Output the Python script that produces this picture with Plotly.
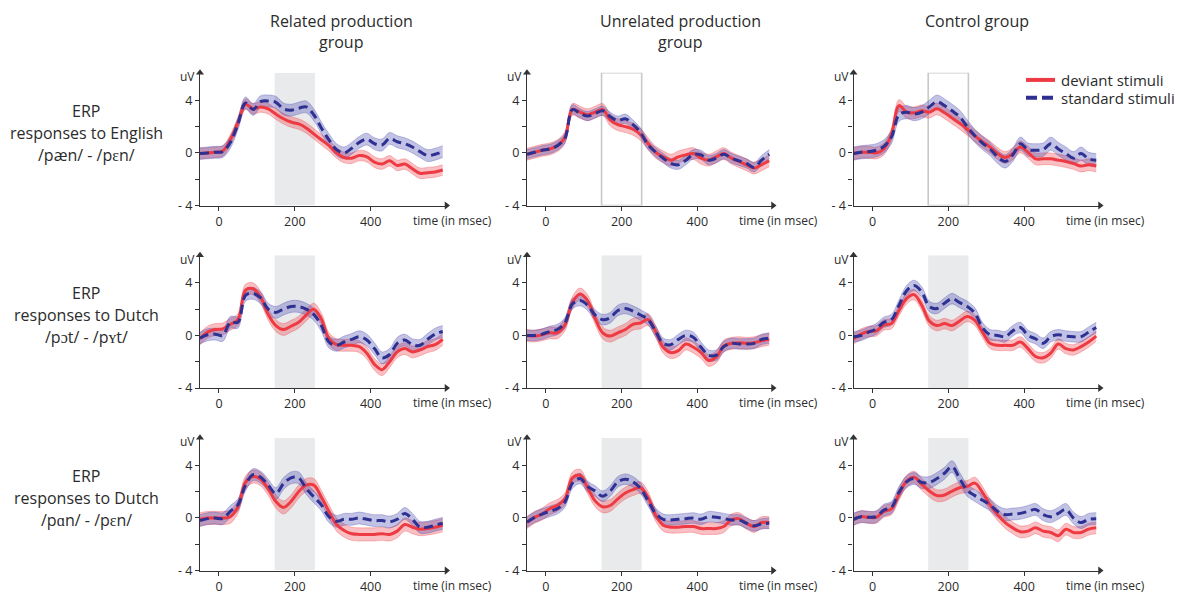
import plotly.graph_objects as go

# ---------------- data ----------------
TIME_MS = [-50, -30, -10, 10, 30, 50, 70, 90, 110, 130, 150, 170, 190, 210, 230, 250,
           270, 290, 310, 330, 350, 370, 390, 410, 430, 450, 470, 490, 510, 530, 550, 570, 590]

COL_TITLES = [["Related production", "group"], ["Unrelated production", "group"], ["Control group"]]
ROW_LABELS = [["ERP", "responses to English", "/pæn/ - /pɛn/"],
              ["ERP", "responses to Dutch", "/pɔt/ - /pʏt/"],
              ["ERP", "responses to Dutch", "/pɑn/ - /pɛn/"]]
SERIES_NAMES = ["deviant stimuli", "standard stimuli"]
Y_TICK_VALS = [-4, -2, 0, 2, 4]
Y_TICK_TEXT = ["- 4", "", "0", "", "4"]
X_TICK_VALS = [0, 200, 400]
X_TICK_TEXT = ["0", "200", "400"]
X_LABEL = "time (in msec)"
Y_LABEL = "uV"
WINDOW_MS = [147, 253]
WINDOW_OUTLINED = [[False, True, True], [False, False, False], [False, False, False]]

# row 1: English /pæn/-/pɛn/
dev_r1_related = [-0.05, 0.0, 0.05, 0.15, 1.0, 2.3, 3.7, 3.35, 3.5, 3.35, 2.95, 2.6, 2.35, 2.2, 1.9, 1.45,
                  1.0, 0.55, 0.0, -0.35, -0.4, -0.2, -0.3, -0.7, -0.85, -0.6, -0.95, -0.85, -1.2, -1.55, -1.5, -1.45, -1.3]
std_r1_related = [-0.05, 0.0, 0.05, 0.1, 0.8, 2.2, 3.8, 3.3, 3.9, 3.95, 3.85, 3.35, 3.25, 3.4, 3.5, 2.9,
                  1.9, 1.0, 0.25, 0.0, 0.35, 0.8, 1.05, 0.7, 0.6, 1.1, 0.85, 0.7, 0.45, 0.1, -0.2, -0.1, 0.1]
dev_r1_unrelated = [-0.1, 0.05, 0.2, 0.3, 0.55, 1.15, 3.3, 3.1, 2.9, 3.1, 3.3, 2.5, 2.15, 2.0, 1.8, 1.4,
                    0.7, 0.05, -0.3, -0.55, -0.3, -0.15, -0.05, -0.4, -0.55, -0.3, -0.05, -0.4, -0.65, -0.9, -1.15, -0.9, -0.6]
std_r1_unrelated = [-0.1, 0.05, 0.2, 0.3, 0.55, 1.1, 3.3, 3.0, 2.8, 3.0, 3.2, 2.75, 2.45, 2.6, 2.15, 1.55,
                    0.6, 0.05, -0.4, -0.8, -0.9, -0.55, -0.1, -0.15, -0.55, -0.4, -0.1, -0.4, -0.6, -0.8, -1.1, -0.55, -0.1]
dev_r1_control = [-0.05, 0.05, 0.05, 0.0, 0.3, 1.4, 3.6, 3.1, 3.05, 3.2, 3.1, 3.35, 3.05, 2.65, 2.25, 1.8,
                  1.3, 0.85, 0.45, -0.05, -0.35, -0.05, 0.45, 0.05, -0.45, -0.45, -0.45, -0.55, -0.65, -0.8, -1.0, -0.9, -1.0]
std_r1_control = [-0.05, 0.05, 0.1, 0.2, 0.5, 1.2, 2.9, 3.1, 2.95, 3.1, 3.5, 3.9, 3.6, 3.2, 2.75, 2.0,
                  1.3, 0.75, 0.3, -0.3, -0.65, -0.15, 0.7, 0.25, 0.2, 0.25, 0.7, 0.3, -0.05, -0.4, -0.05, -0.45, -0.55]

# row 2: Dutch /pɔt/-/pʏt/
dev_r2_related = [-0.25, 0.25, 0.45, 0.5, 0.85, 1.2, 3.45, 3.55, 2.9, 1.6, 0.75, 0.45, 0.7, 1.0, 1.55, 2.0,
                  1.25, -0.25, -0.7, -0.75, -0.75, -0.85, -1.35, -2.2, -2.6, -2.0, -1.25, -1.0, -1.25, -1.1, -0.85, -0.7, -0.3]
std_r2_related = [-0.2, 0.05, 0.1, 0.0, 1.0, 1.0, 3.05, 3.2, 2.85, 2.0, 1.75, 2.0, 2.2, 2.2, 2.0, 1.6,
                  0.75, -0.5, -0.75, -0.5, -0.3, -0.1, -0.35, -1.0, -1.7, -1.45, -0.6, -0.35, -0.7, -0.75, -0.3, 0.1, 0.3]
dev_r2_unrelated = [0.0, -0.05, 0.05, 0.2, 0.2, 0.8, 2.5, 3.15, 2.65, 1.3, 0.2, -0.05, 0.2, 0.45, 0.85, 0.95,
                    1.2, 0.3, -0.9, -1.3, -1.15, -0.65, -0.9, -1.3, -1.9, -1.65, -0.8, -0.6, -0.55, -0.6, -0.55, -0.4, -0.3]
std_r2_unrelated = [0.0, 0.0, 0.1, 0.3, 0.45, 0.95, 2.4, 2.65, 2.3, 1.55, 1.2, 1.35, 1.9, 2.05, 1.85, 1.55,
                    1.2, 0.3, -0.6, -0.7, -0.3, 0.0, -0.15, -0.9, -1.5, -1.5, -0.85, -0.6, -0.65, -0.65, -0.6, -0.3, -0.2]
dev_r2_control = [-0.25, 0.1, 0.3, 0.35, 0.8, 0.9, 1.9, 2.8, 3.1, 2.3, 1.1, 0.75, 0.9, 0.75, 1.1, 1.45,
                  1.15, 0.25, -0.6, -0.75, -0.75, -0.75, -0.5, -1.0, -1.6, -1.7, -1.35, -0.65, -1.0, -1.1, -0.85, -0.5, -0.05]
std_r2_control = [-0.1, 0.0, 0.25, 0.5, 1.0, 1.2, 2.3, 3.4, 3.8, 3.3, 2.2, 2.05, 2.45, 2.8, 2.5, 2.2,
                  1.7, 0.6, 0.05, 0.0, -0.1, 0.35, 0.6, 0.0, -0.25, -0.6, -0.1, 0.05, -0.05, -0.1, -0.1, 0.25, 0.6]

# row 3: Dutch /pɑn/-/pɛn/
dev_r3_related = [-0.1, 0.0, 0.0, 0.0, 0.1, 0.85, 2.7, 3.15, 2.95, 2.2, 1.25, 0.8, 1.25, 2.0, 2.5, 2.5,
                  1.6, 0.5, -0.5, -0.95, -1.2, -1.25, -1.25, -1.25, -1.2, -1.25, -1.0, -0.5, -0.7, -0.85, -0.8, -0.7, -0.55]
std_r3_related = [-0.2, -0.05, 0.0, -0.05, 0.5, 1.0, 2.5, 3.3, 3.1, 2.5, 1.85, 2.6, 3.05, 3.05, 2.25, 1.6,
                  1.0, 0.1, -0.25, -0.1, -0.1, 0.0, -0.1, -0.2, -0.2, -0.3, -0.1, 0.35, -0.1, -0.7, -0.7, -0.55, -0.4]
dev_r3_unrelated = [-0.35, 0.05, 0.3, 0.7, 0.95, 1.45, 3.05, 3.25, 2.3, 1.3, 0.85, 0.95, 1.45, 1.9, 2.15, 2.3,
                    1.55, 0.2, -0.55, -0.7, -0.7, -0.65, -0.65, -0.8, -0.8, -0.8, -0.65, -0.15, -0.05, -0.4, -0.65, -0.35, -0.35]
std_r3_unrelated = [-0.3, 0.05, 0.3, 0.5, 0.7, 1.2, 2.65, 3.0, 2.4, 2.05, 1.65, 2.05, 2.75, 2.95, 2.75, 2.25,
                    1.3, 0.35, -0.1, -0.15, -0.1, -0.05, 0.0, -0.1, 0.1, 0.05, -0.05, -0.15, -0.15, -0.4, -0.6, -0.45, -0.4]
dev_r3_control = [-0.1, 0.1, 0.05, 0.05, 0.5, 0.7, 1.8, 2.8, 3.1, 2.55, 2.05, 1.7, 1.75, 2.05, 2.3, 2.4,
                  2.65, 1.95, 1.0, 0.25, -0.35, -0.75, -1.05, -1.0, -0.75, -1.0, -1.1, -1.35, -0.85, -1.1, -1.1, -0.85, -0.75]
std_r3_control = [-0.1, 0.1, 0.05, 0.1, 0.6, 0.8, 1.95, 2.75, 3.0, 2.7, 2.7, 3.0, 3.4, 3.9, 3.0, 2.1,
                  1.7, 1.35, 1.0, 0.5, 0.25, 0.3, 0.35, 0.5, 0.65, 0.25, 0.1, 0.35, 0.65, 0.0, -0.35, -0.1, -0.05]

# half-width of the shaded error bands (uV), per panel
dev_band = [[0.4, 0.45, 0.45], [0.45, 0.45, 0.4], [0.5, 0.45, 0.45]]
std_band = [[0.45, 0.35, 0.5], [0.45, 0.4, 0.4], [0.45, 0.4, 0.45]]

DEV = [[dev_r1_related, dev_r1_unrelated, dev_r1_control],
       [dev_r2_related, dev_r2_unrelated, dev_r2_control],
       [dev_r3_related, dev_r3_unrelated, dev_r3_control]]
STD = [[std_r1_related, std_r1_unrelated, std_r1_control],
       [std_r2_related, std_r2_unrelated, std_r2_control],
       [std_r3_related, std_r3_unrelated, std_r3_control]]

# ---------------- styling / layout ----------------
W, H = 1178, 600
FONT = "Open Sans"
TXT = "#2b2b2b"
AXC = "#333333"
RED = "#EE3A43"
BLUE = "#2E3192"
RED_FILL = "rgba(238,60,70,0.33)"
RED_EDGE = "rgba(238,60,70,0.45)"
BLUE_FILL = "rgba(70,70,175,0.33)"
BLUE_EDGE = "rgba(70,70,175,0.45)"
X_RANGE = [-50, 600]
Y_RANGE = [-4, 6.1]

COL_LEFT = [200, 527, 853.5]
COL_RIGHT = [446.5, 773, 1100]
ROW_BOTTOM = [208.3, 393.3, 578.3]
PX_PER_UV = 13.33


def fx(p):
    return p / W


def fy(p):
    return 1 - p / H


fig = go.Figure()
layout = dict(width=W, height=H, margin=dict(l=0, r=0, t=0, b=0),
              paper_bgcolor="white", plot_bgcolor="white", showlegend=False)
shapes, annotations = [], []

for r in range(3):
    bottom = ROW_BOTTOM[r]
    top = bottom - (Y_RANGE[1] - Y_RANGE[0]) * PX_PER_UV
    for c in range(3):
        n = r * 3 + c + 1
        sfx = "" if n == 1 else str(n)
        xa, ya = "x" + sfx, "y" + sfx
        layout["xaxis" + sfx] = dict(
            domain=[fx(COL_LEFT[c]), fx(COL_RIGHT[c])], anchor=ya, range=X_RANGE,
            showgrid=False, zeroline=False, showline=True, linecolor=AXC, linewidth=1.2,
            ticks="outside", ticklen=4, tickwidth=1, tickcolor=AXC,
            tickvals=X_TICK_VALS, ticktext=X_TICK_TEXT,
            tickfont=dict(family=FONT, size=12.5, color=TXT))
        layout["yaxis" + sfx] = dict(
            domain=[fy(bottom), fy(top)], anchor=xa, range=Y_RANGE,
            showgrid=False, zeroline=False, showline=True, linecolor=AXC, linewidth=1.2,
            ticks="outside", ticklen=4, tickwidth=1, tickcolor=AXC,
            tickvals=Y_TICK_VALS, ticktext=Y_TICK_TEXT,
            tickfont=dict(family=FONT, size=12.5, color=TXT))

        # time window
        if WINDOW_OUTLINED[r][c]:
            shapes.append(dict(type="rect", xref=xa, yref=ya, x0=WINDOW_MS[0], x1=WINDOW_MS[1],
                               y0=Y_RANGE[0], y1=Y_RANGE[1], layer="below",
                               line=dict(color="#C8C8C8", width=1.6), fillcolor="rgba(0,0,0,0)"))
        else:
            shapes.append(dict(type="rect", xref=xa, yref=ya, x0=WINDOW_MS[0], x1=WINDOW_MS[1],
                               y0=Y_RANGE[0], y1=Y_RANGE[1], layer="below",
                               line=dict(width=0), fillcolor="#E9EAEC"))

        dev, std = DEV[r][c], STD[r][c]
        for vals, half, fill, edge in ((dev, dev_band[r][c], RED_FILL, RED_EDGE),
                                       (std, std_band[r][c], BLUE_FILL, BLUE_EDGE)):
            fig.add_trace(go.Scatter(x=TIME_MS, y=[v + half for v in vals], xaxis=xa, yaxis=ya,
                                     mode="lines", line=dict(color=edge, width=0.7, shape="spline"),
                                     hoverinfo="skip"))
            fig.add_trace(go.Scatter(x=TIME_MS, y=[v - half for v in vals], xaxis=xa, yaxis=ya,
                                     mode="lines", line=dict(color=edge, width=0.7, shape="spline"),
                                     fill="tonexty", fillcolor=fill, hoverinfo="skip"))
        fig.add_trace(go.Scatter(x=TIME_MS, y=dev, xaxis=xa, yaxis=ya, mode="lines",
                                 name=SERIES_NAMES[0],
                                 line=dict(color=RED, width=3, shape="spline")))
        fig.add_trace(go.Scatter(x=TIME_MS, y=std, xaxis=xa, yaxis=ya, mode="lines",
                                 name=SERIES_NAMES[1],
                                 line=dict(color=BLUE, width=3, shape="spline", dash="9px,5px")))
        # arrow heads
        fig.add_trace(go.Scatter(x=[X_RANGE[1], X_RANGE[0]], y=[Y_RANGE[0], Y_RANGE[1]],
                                 xaxis=xa, yaxis=ya, mode="markers", cliponaxis=False,
                                 marker=dict(symbol=["triangle-right", "triangle-up"], size=7,
                                             color=AXC), hoverinfo="skip"))
        # axis labels
        annotations.append(dict(xref="paper", yref="paper", x=fx(COL_LEFT[c] - 3), y=fy(top + 4),
                                text=Y_LABEL, showarrow=False, xanchor="right", yanchor="middle",
                                font=dict(family=FONT, size=12, color=TXT)))
        annotations.append(dict(xref="paper", yref="paper", x=fx(COL_RIGHT[c] - 36), y=fy(bottom + 15),
                                text=X_LABEL, showarrow=False, xanchor="left", yanchor="middle",
                                font=dict(family=FONT, size=12, color=TXT)))

# column titles
COL_CENTER = [341, 680, 977]
for c, lines in enumerate(COL_TITLES):
    for i, line in enumerate(lines):
        annotations.append(dict(xref="paper", yref="paper", x=fx(COL_CENTER[c]), y=fy(21 + 22 * i),
                                text=line, showarrow=False, xanchor="center", yanchor="middle",
                                font=dict(family=FONT, size=16, color=TXT)))
# row labels
for r, lines in enumerate(ROW_LABELS):
    for i, line in enumerate(lines):
        annotations.append(dict(xref="paper", yref="paper", x=fx(86), y=fy(112 + 185 * r + 22.5 * i),
                                text=line, showarrow=False, xanchor="center", yanchor="middle",
                                font=dict(family=FONT, size=16, color=TXT)))

# legend
shapes.append(dict(type="line", xref="paper", yref="paper", x0=fx(1026), x1=fx(1055),
                   y0=fy(81), y1=fy(81), line=dict(color=RED, width=4)))
shapes.append(dict(type="line", xref="paper", yref="paper", x0=fx(1026), x1=fx(1055),
                   y0=fy(99), y1=fy(99), line=dict(color=BLUE, width=4, dash="11px,5px")))
for i, name in enumerate(SERIES_NAMES):
    annotations.append(dict(xref="paper", yref="paper", x=fx(1059), y=fy(81 + 18 * i),
                            text=name, showarrow=False, xanchor="left", yanchor="middle",
                            font=dict(family=FONT, size=15, color=TXT)))

layout["shapes"] = shapes
layout["annotations"] = annotations
fig.update_layout(**layout)
fig.write_html("out.html")
